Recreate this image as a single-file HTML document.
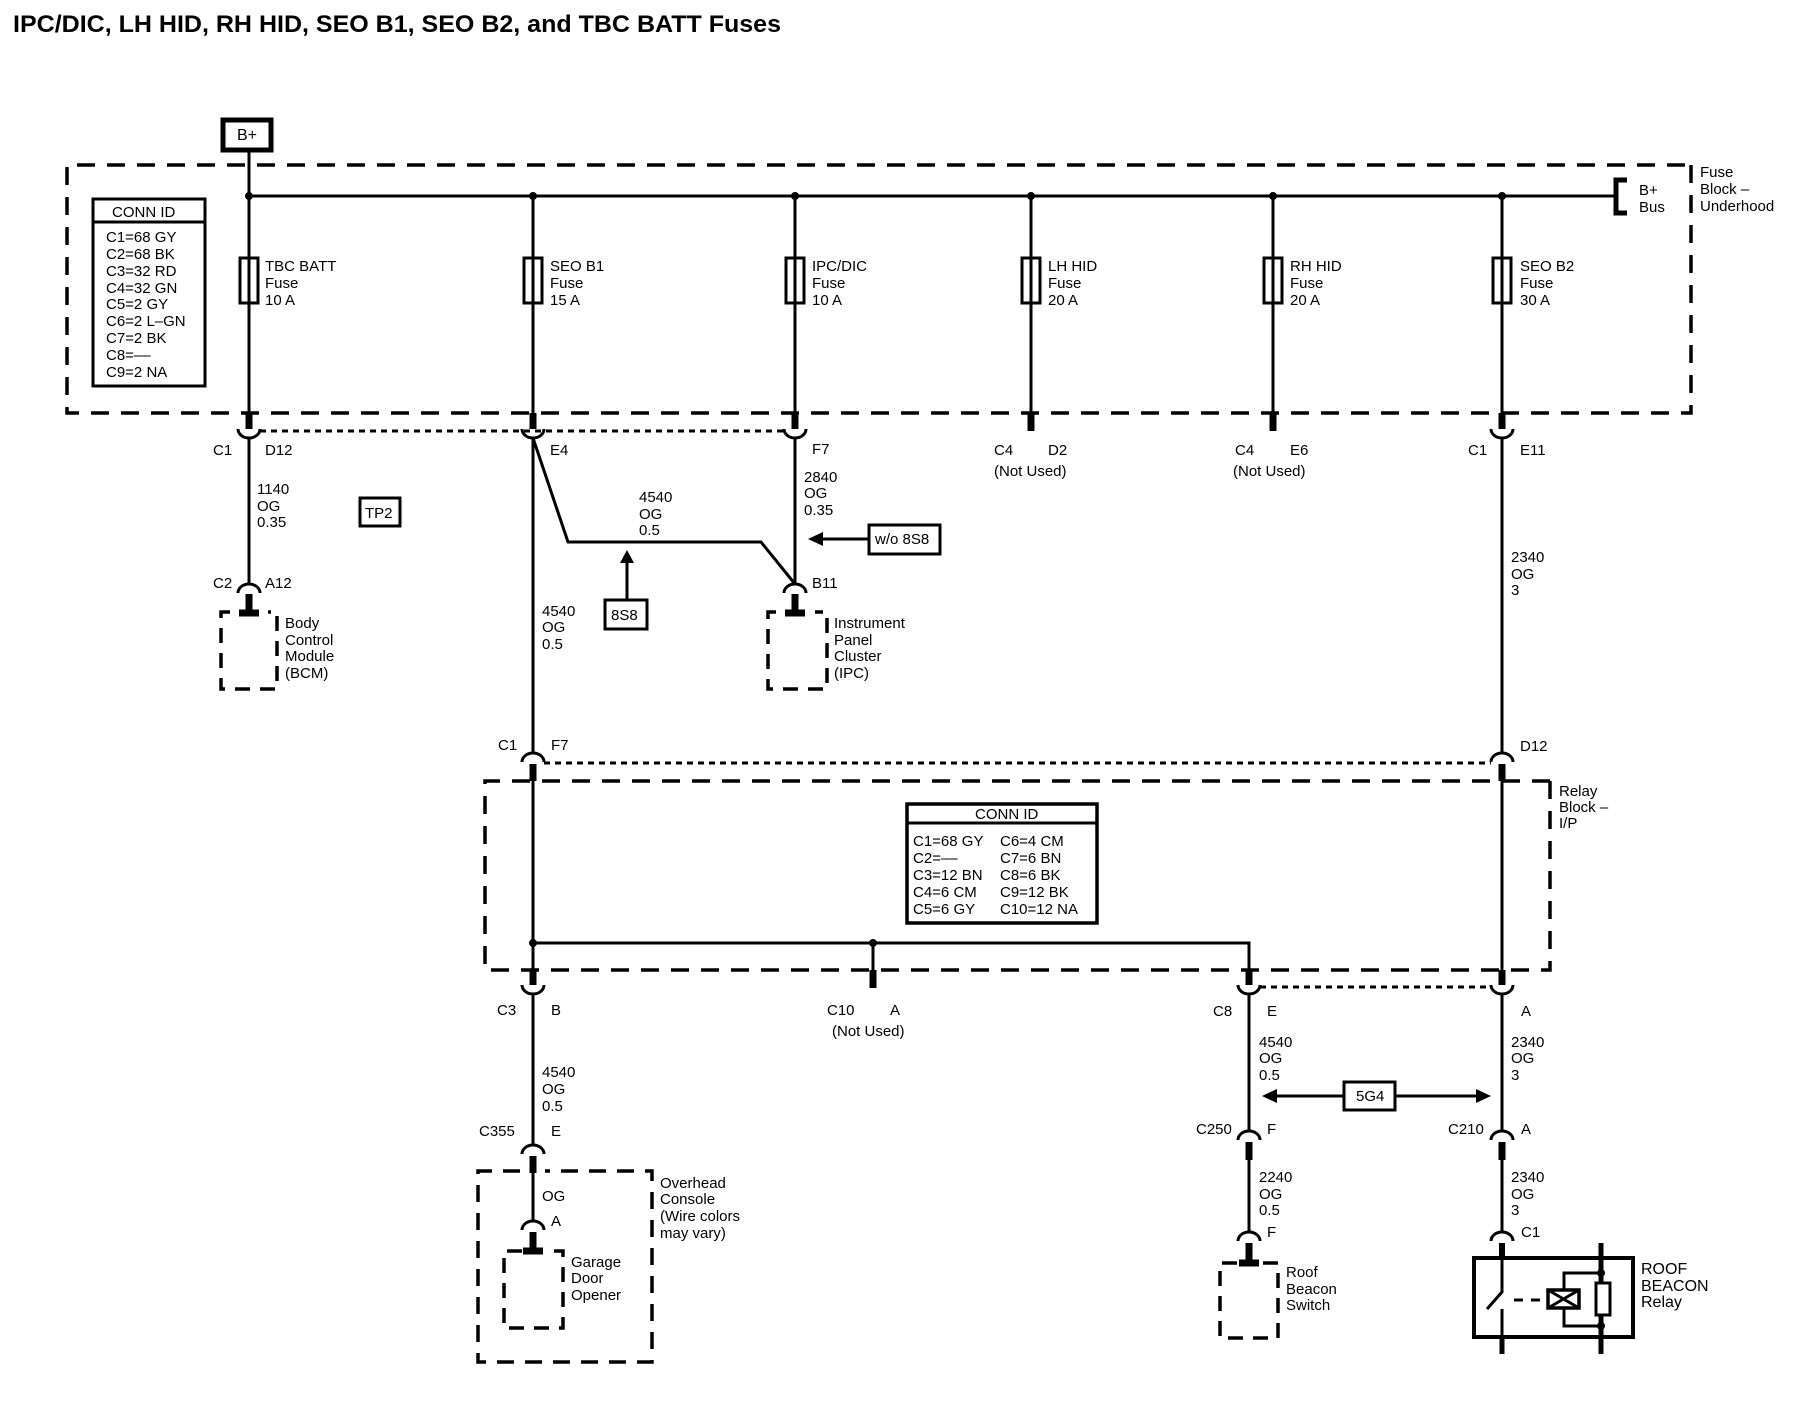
<!DOCTYPE html>
<html><head><meta charset="utf-8"><style>
html,body{margin:0;padding:0;background:#fff;overflow:hidden}
svg{display:block}
text{font-family:"Liberation Sans",sans-serif;font-size:15px;fill:#000}
</style></head><body>
<svg width="1800" height="1408" viewBox="0 0 1800 1408" xmlns="http://www.w3.org/2000/svg">
<text x="13" y="32" style="font-size:24px;font-weight:bold" textLength="768" lengthAdjust="spacingAndGlyphs">IPC/DIC, LH HID, RH HID, SEO B1, SEO B2, and TBC BATT Fuses</text>

<g fill="none" stroke="#000">
<rect x="223" y="120" width="48" height="30" stroke-width="5"/>
<path d="M1685,165 H67 V413 H1691 V165 H1685" stroke-width="3.5" stroke-dasharray="18,12"/>
<path d="M249,150 V413 M249,196 H1615 M533,196 V413 M795,196 V413 M1031,196 V413 M1273,196 V413 M1502,196 V413" stroke-width="3"/>
<path d="M1627,180 H1616 V213 H1627" stroke-width="5"/>
<g stroke-width="3" fill="#fff">
<rect x="240" y="258" width="18" height="45"/><rect x="524" y="258" width="18" height="45"/><rect x="786" y="258" width="18" height="45"/><rect x="1022" y="258" width="18" height="45"/><rect x="1264" y="258" width="18" height="45"/><rect x="1493" y="258" width="18" height="45"/>
</g>
<path d="M249,258V303 M533,258V303 M795,258V303 M1031,258V303 M1273,258V303 M1502,258V303" stroke-width="3"/>
<rect x="93" y="199" width="112" height="187" stroke-width="3"/>
<path d="M93,222 H205" stroke-width="3"/>
<path d="M249,413V429 M533,413V429 M795,413V429 M1031,413V431 M1273,413V431 M1502,413V429" stroke-width="7"/>
<path d="M238,429 A11,9 0 0 0 260,429 M522,429 A11,9 0 0 0 544,429 M784,429 A11,9 0 0 0 806,429 M1491,429 A11,9 0 0 0 1513,429" stroke-width="3"/>
<path d="M260,431 H784" stroke-width="3" stroke-dasharray="6,5"/>
<path d="M249,438 V584" stroke-width="3"/>
<path d="M238,593 A11,9 0 0 1 260,593" stroke-width="3"/>
<path d="M249,594 V613 M239,613 H259" stroke-width="7"/>
<path d="M230,612 H221 V689 H277 V612 H268" stroke-width="3.5" stroke-dasharray="15,10"/>
<rect x="360" y="498" width="40" height="28" stroke-width="3"/>
<path d="M533,438 V753 M533,438 L568,542 H761 L795,584 M795,438 V584" stroke-width="3"/>
<path d="M627,599 V560" stroke-width="3"/>
<path d="M627,550 L620,563 H634 Z" fill="#000" stroke="none"/>
<rect x="605" y="600" width="42" height="29" stroke-width="3"/>
<rect x="869" y="525" width="71" height="29" stroke-width="3"/>
<path d="M869,539 H820" stroke-width="3"/>
<path d="M808,539 L823,532 V546 Z" fill="#000" stroke="none"/>
<path d="M784,593 A11,9 0 0 1 806,593" stroke-width="3"/>
<path d="M795,594 V613 M785,613 H805" stroke-width="7"/>
<path d="M776,612 H768 V689 H827 V612 H815" stroke-width="3.5" stroke-dasharray="15,10"/>
<path d="M1502,438 V753" stroke-width="3"/>
<path d="M522,762 A11,9 0 0 1 544,762 M1491,762 A11,9 0 0 1 1513,762" stroke-width="3"/>
<path d="M544,763 H1491" stroke-width="3" stroke-dasharray="6,5"/>
<path d="M533,764 V781 M1502,764 V781" stroke-width="7"/>
<path d="M1550,781 H485 V970 H1550 V781" stroke-width="3.5" stroke-dasharray="18,12"/>
<path d="M533,781 V970 M1502,781 V970 M533,943 H1249 V970 M873,943 V970" stroke-width="3"/>
<rect x="907" y="804" width="190" height="119" stroke-width="3.5"/>
<path d="M907,823 H1097" stroke-width="3"/>
<path d="M533,970 V985 M873,970 V988 M1249,970 V985 M1502,970 V985" stroke-width="7"/>
<path d="M522,985 A11,9 0 0 0 544,985 M1238,985 A11,9 0 0 0 1260,985 M1491,985 A11,9 0 0 0 1513,985" stroke-width="3"/>
<path d="M1260,987 H1491" stroke-width="3" stroke-dasharray="6,5"/>
<path d="M533,994 V1145" stroke-width="3"/>
<path d="M522,1154 A11,9 0 0 1 544,1154" stroke-width="3"/>
<path d="M533,1156 V1173" stroke-width="7"/>
<path d="M533,1173 V1222" stroke-width="3"/>
<path d="M522,1230 A11,9 0 0 1 544,1230" stroke-width="3"/>
<path d="M533,1232 V1251 M523,1251 H543" stroke-width="7"/>
<path d="M520,1171 H478 V1362 H652 V1171 H545" stroke-width="3.5" stroke-dasharray="17,11"/>
<path d="M522,1251 H504 V1328 H563 V1251 H544" stroke-width="3.5" stroke-dasharray="15,10"/>
<path d="M1249,994 V1132 M1502,994 V1132" stroke-width="3"/>
<rect x="1344" y="1082" width="51" height="28" stroke-width="3"/>
<path d="M1344,1096 H1274 M1395,1096 H1480" stroke-width="3"/>
<path d="M1262,1096 L1277,1089 V1103 Z M1491,1096 L1476,1089 V1103 Z" fill="#000" stroke="none"/>
<path d="M1238,1140 A11,9 0 0 1 1260,1140 M1491,1140 A11,9 0 0 1 1513,1140" stroke-width="3"/>
<path d="M1249,1142 V1160 M1502,1142 V1160" stroke-width="7"/>
<path d="M1249,1160 V1232 M1502,1160 V1232" stroke-width="3"/>
<path d="M1238,1241 A11,9 0 0 1 1260,1241 M1491,1241 A11,9 0 0 1 1513,1241" stroke-width="3"/>
<path d="M1249,1243 V1263 M1239,1263 H1259" stroke-width="7"/>
<path d="M1237,1263 H1220 V1338 H1278 V1263 H1262" stroke-width="3.5" stroke-dasharray="15,10"/>
<path d="M1502,1243 V1258" stroke-width="6"/>
<rect x="1474" y="1258" width="159" height="79" stroke-width="4"/>
<path d="M1502,1258 V1292 L1487,1309 M1502,1309 V1354" stroke-width="3"/>
<path d="M1502,1337 V1354 M1601,1243 V1354" stroke-width="5"/>
<path d="M1514,1300 H1546" stroke-width="3" stroke-dasharray="9,8"/>
<rect x="1548" y="1290" width="31" height="18" stroke-width="3.5"/>
<path d="M1548,1290 L1579,1308 M1579,1290 L1548,1308" stroke-width="3"/>
<rect x="1596" y="1283" width="14" height="32" stroke-width="3" fill="#fff"/>
<path d="M1564,1290 V1273 H1601 M1564,1308 V1326 H1601" stroke-width="3"/>
</g>
<g fill="#000">
<circle cx="249" cy="196" r="4"/><circle cx="533" cy="196" r="4"/><circle cx="795" cy="196" r="4"/><circle cx="1031" cy="196" r="4"/><circle cx="1273" cy="196" r="4"/><circle cx="1502" cy="196" r="4"/>
<circle cx="533" cy="943" r="4"/><circle cx="873" cy="943" r="4"/><circle cx="1601" cy="1273" r="4"/><circle cx="1601" cy="1326" r="4"/>
</g>

<text x="237" y="140" style="font-size:16px">B+</text>
<text x="1639" y="195">B+</text><text x="1639" y="212">Bus</text>
<text x="1700" y="177">Fuse</text><text x="1700" y="194">Block –</text><text x="1700" y="211">Underhood</text>

<text x="112" y="217">CONN ID</text>
<g><text x="106" y="242">C1=68 GY</text><text x="106" y="259">C2=68 BK</text><text x="106" y="276">C3=32 RD</text><text x="106" y="293">C4=32 GN</text><text x="106" y="309">C5=2 GY</text><text x="106" y="326">C6=2 L–GN</text><text x="106" y="343">C7=2 BK</text><text x="106" y="360">C8=––</text><text x="106" y="377">C9=2 NA</text></g>

<text x="265" y="271">TBC BATT</text><text x="265" y="288">Fuse</text><text x="265" y="305">10 A</text>
<text x="550" y="271">SEO B1</text><text x="550" y="288">Fuse</text><text x="550" y="305">15 A</text>
<text x="812" y="271">IPC/DIC</text><text x="812" y="288">Fuse</text><text x="812" y="305">10 A</text>
<text x="1048" y="271">LH HID</text><text x="1048" y="288">Fuse</text><text x="1048" y="305">20 A</text>
<text x="1290" y="271">RH HID</text><text x="1290" y="288">Fuse</text><text x="1290" y="305">20 A</text>
<text x="1520" y="271">SEO B2</text><text x="1520" y="288">Fuse</text><text x="1520" y="305">30 A</text>

<text x="213" y="455">C1</text><text x="265" y="455">D12</text>
<text x="550" y="455">E4</text><text x="812" y="454">F7</text>
<text x="994" y="455">C4</text><text x="1048" y="455">D2</text><text x="994" y="476">(Not Used)</text>
<text x="1235" y="455">C4</text><text x="1290" y="455">E6</text><text x="1233" y="476">(Not Used)</text>
<text x="1468" y="455">C1</text><text x="1520" y="455">E11</text>

<text x="257" y="494">1140</text><text x="257" y="511">OG</text><text x="257" y="527">0.35</text>
<text x="365" y="518">TP2</text>
<text x="639" y="502">4540</text><text x="639" y="519">OG</text><text x="639" y="535">0.5</text>
<text x="804" y="482">2840</text><text x="804" y="498">OG</text><text x="804" y="515">0.35</text>
<text x="875" y="544">w/o 8S8</text>
<text x="611" y="620">8S8</text>
<text x="213" y="588">C2</text><text x="265" y="588">A12</text>
<text x="812" y="588">B11</text>
<text x="542" y="616">4540</text><text x="542" y="632">OG</text><text x="542" y="649">0.5</text>
<text x="285" y="628">Body</text><text x="285" y="645">Control</text><text x="285" y="661">Module</text><text x="285" y="678">(BCM)</text>
<text x="834" y="628">Instrument</text><text x="834" y="645">Panel</text><text x="834" y="661">Cluster</text><text x="834" y="678">(IPC)</text>
<text x="1511" y="562">2340</text><text x="1511" y="579">OG</text><text x="1511" y="595">3</text>

<text x="498" y="750">C1</text><text x="551" y="750">F7</text><text x="1520" y="751">D12</text>
<text x="1559" y="796">Relay</text><text x="1559" y="812">Block –</text><text x="1559" y="828">I/P</text>
<text x="975" y="819">CONN ID</text>
<text x="913" y="846">C1=68 GY</text><text x="913" y="863">C2=––</text><text x="913" y="880">C3=12 BN</text><text x="913" y="897">C4=6 CM</text><text x="913" y="914">C5=6 GY</text>
<text x="1000" y="846">C6=4 CM</text><text x="1000" y="863">C7=6 BN</text><text x="1000" y="880">C8=6 BK</text><text x="1000" y="897">C9=12 BK</text><text x="1000" y="914">C10=12 NA</text>

<text x="497" y="1015">C3</text><text x="551" y="1015">B</text>
<text x="827" y="1015">C10</text><text x="890" y="1015">A</text><text x="832" y="1036">(Not Used)</text>
<text x="1213" y="1016">C8</text><text x="1267" y="1016">E</text><text x="1521" y="1016">A</text>
<text x="542" y="1077">4540</text><text x="542" y="1094">OG</text><text x="542" y="1111">0.5</text>
<text x="1259" y="1047">4540</text><text x="1259" y="1063">OG</text><text x="1259" y="1080">0.5</text>
<text x="1511" y="1047">2340</text><text x="1511" y="1063">OG</text><text x="1511" y="1080">3</text>
<text x="1356" y="1101">5G4</text>
<text x="1196" y="1134">C250</text><text x="1267" y="1134">F</text><text x="1448" y="1134">C210</text><text x="1521" y="1134">A</text>
<text x="479" y="1136">C355</text><text x="551" y="1136">E</text>
<text x="1259" y="1182">2240</text><text x="1259" y="1199">OG</text><text x="1259" y="1215">0.5</text>
<text x="1511" y="1182">2340</text><text x="1511" y="1199">OG</text><text x="1511" y="1215">3</text>
<text x="660" y="1188">Overhead</text><text x="660" y="1204">Console</text><text x="660" y="1221">(Wire colors</text><text x="660" y="1238">may vary)</text>
<text x="542" y="1201">OG</text><text x="551" y="1226">A</text>
<text x="1267" y="1237">F</text><text x="1521" y="1237">C1</text>
<text x="571" y="1267">Garage</text><text x="571" y="1283">Door</text><text x="571" y="1300">Opener</text>
<text x="1286" y="1277">Roof</text><text x="1286" y="1294">Beacon</text><text x="1286" y="1310">Switch</text>
<text x="1641" y="1274" style="font-size:16px">ROOF</text><text x="1641" y="1291" style="font-size:16px">BEACON</text><text x="1641" y="1307" style="font-size:16px">Relay</text>
</svg>
</body></html>
